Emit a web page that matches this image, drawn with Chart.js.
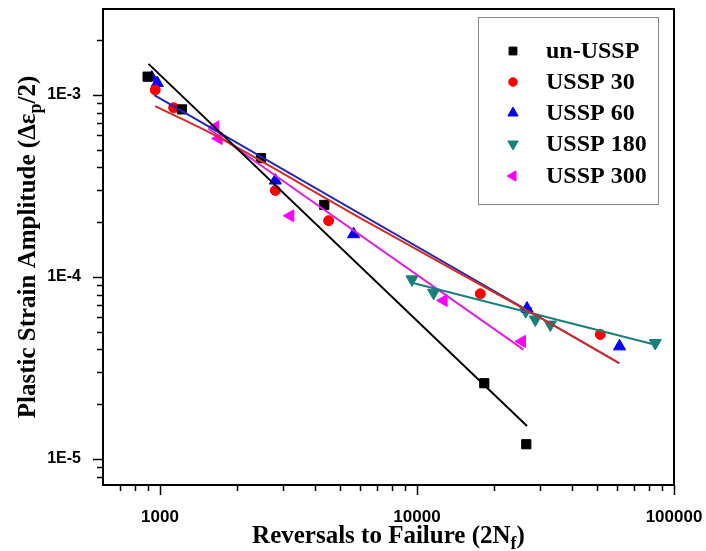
<!DOCTYPE html>
<html><head><meta charset="utf-8">
<script src="https://cdn.jsdelivr.net/npm/chart.js@4/dist/chart.umd.min.js"></script>
<style>html,body{margin:0;padding:0;background:#fff;}#wrap{width:706px;height:551px;position:relative;}</style>
</head><body><div id="wrap"><canvas id="c"></canvas></div>
<script>
// ---- data ----
const seriesNames = ['un-USSP', 'USSP 30', 'USSP 60', 'USSP 180', 'USSP 300'];

const unUsspX = [895, 1217, 2472, 4357, 18270, 26620];
const unUsspY = [1.262e-3, 8.34e-4, 4.50e-4, 2.49e-4, 2.61e-5, 1.206e-5];
const ussp30X = [958, 1130, 2810, 4530, 17630, 51660];
const ussp30Y = [1.066e-3, 8.51e-4, 2.99e-4, 2.04e-4, 8.09e-5, 4.83e-5];
const ussp60X = [929, 976, 2810, 5665, 26790, 61400];
const ussp60Y = [1.249e-3, 1.165e-3, 3.39e-4, 1.72e-4, 6.71e-5, 4.16e-5];
const ussp180X = [9560, 11600, 26500, 28860, 33020, 84560];
const ussp180Y = [9.71e-5, 8.19e-5, 6.49e-5, 5.84e-5, 5.48e-5, 4.34e-5];
const ussp300X = [1641, 1691, 3214, 12690, 25620];
const ussp300Y = [6.68e-4, 5.77e-4, 2.17e-4, 7.43e-5, 4.43e-5];

// fitted lines
const fitUnX = [902, 26790];
const fitUnY = [1.483e-3, 1.52e-5];
const fit30X = [958, 1716, 6583, 30180, 61260];
const fit30Y = [8.69e-4, 5.79e-4, 1.963e-4, 5.96e-5, 3.36e-5];
const fit60X = [950, 61260];
const fit60Y = [1.0e-3, 3.36e-5];
const fit180X = [9560, 84560];
const fit180Y = [9.30e-5, 4.25e-5];
const fit300X = [1541, 25970];
const fit300Y = [6.55e-4, 3.99e-5];

// axis ticks
const xTickValues = [700, 800, 900, 1000, 2000, 3000, 4000, 5000, 6000, 7000, 8000, 9000,
  10000, 20000, 30000, 40000, 50000, 60000, 70000, 80000, 90000, 100000];
const xMajorValues = [1000, 10000, 100000];
const xTickLabels = ['1000', '10000', '100000'];
const yTickValues = [8e-6, 9e-6, 1e-5, 2e-5, 3e-5, 4e-5, 5e-5, 6e-5, 7e-5, 8e-5, 9e-5,
  1e-4, 2e-4, 3e-4, 4e-4, 5e-4, 6e-4, 7e-4, 8e-4, 9e-4, 1e-3, 2e-3];
const yMajorValues = [1e-5, 1e-4, 1e-3];
const yTickLabels = ['1E-5', '1E-4', '1E-3'];

const xTitle = ['Reversals to Failure (2N', 'f', ')'];
const yTitle = ['Plastic Strain Amplitude (\u0394\u03b5', 'p', '/2)'];

// ---- build ----
const pts = (xs, ys) => xs.map((x, i) => ({x: x, y: ys[i]}));
const markerSpec = [
  {x: unUsspX, y: unUsspY, color: '#000000', style: 'rect', r: 6.5, rot: 0},
  {x: ussp30X, y: ussp30Y, color: '#ff0000', style: 'circle', r: 5, rot: 0},
  {x: ussp60X, y: ussp60Y, color: '#0000ff', style: 'triangle', r: 7, rot: 0},
  {x: ussp180X, y: ussp180Y, color: '#17807b', style: 'triangle', r: 7, rot: 180},
  {x: ussp300X, y: ussp300Y, color: '#ff00ff', style: 'triangle', r: 7, rot: 270}
];
const lineSpec = [
  {x: fitUnX, y: fitUnY, color: '#000000', t: 0},
  {x: fit30X, y: fit30Y, color: '#d42b22', t: 0.35},
  {x: fit60X, y: fit60Y, color: '#2424b8', t: 0},
  {x: fit180X, y: fit180Y, color: '#17807b', t: 0},
  {x: fit300X, y: fit300Y, color: '#e21ee2', t: 0}
];

const datasets = [];
markerSpec.forEach((m, i) => datasets.push({
  label: seriesNames[i], data: pts(m.x, m.y), showLine: false,
  pointStyle: m.style, pointRadius: m.r, pointRotation: m.rot, pointBorderWidth: 1,
  backgroundColor: m.color, borderColor: m.color, order: 2
}));
lineSpec.forEach((l, i) => datasets.push({
  label: seriesNames[i] + ' fit', data: pts(l.x, l.y), showLine: true, pointRadius: 0,
  borderColor: l.color, borderWidth: 2, tension: l.t, fill: false, order: 1
}));

const isPow10 = v => Math.abs(Math.log10(v) - Math.round(Math.log10(v))) < 1e-9;
const labelFor = (v, majors, labels) => {
  const k = majors.findIndex(m => Math.abs(m - v) / m < 1e-6);
  return k >= 0 ? labels[k] : '';
};

const framePlugin = {
  id: 'frame',
  afterDraw(chart) {
    const {ctx, chartArea: a} = chart;
    const xs = chart.scales.x, ys = chart.scales.y;
    ctx.save();
    ctx.strokeStyle = '#000';
    ctx.lineWidth = 1.5;
    ctx.beginPath();
    xs.ticks.forEach(t => {
      const p = Math.round(xs.getPixelForValue(t.value)) + 0.5;
      const len = isPow10(t.value) ? 10 : 6;
      ctx.moveTo(p, a.bottom); ctx.lineTo(p, a.bottom + len);
    });
    ys.ticks.forEach(t => {
      const p = Math.round(ys.getPixelForValue(t.value)) + 0.5;
      const len = isPow10(t.value) ? 10 : 6;
      ctx.moveTo(a.left, p); ctx.lineTo(a.left - len, p);
    });
    ctx.stroke();
    ctx.lineWidth = 2;
    ctx.strokeRect(a.left, a.top, a.right - a.left, a.bottom - a.top);

    // axis titles with subscripts
    const big = 'bold 25px "Liberation Serif", "Times New Roman", serif';
    const small = 'bold 18px "Liberation Serif", "Times New Roman", serif';
    const drawTitle = (parts, cx, baseY) => {
      ctx.font = big; const w0 = ctx.measureText(parts[0]).width;
      ctx.font = small; const w1 = ctx.measureText(parts[1]).width;
      ctx.font = big; const w2 = ctx.measureText(parts[2]).width;
      let x0 = cx - (w0 + w1 + w2) / 2;
      ctx.fillStyle = '#000'; ctx.textBaseline = 'alphabetic'; ctx.textAlign = 'left';
      ctx.font = big; ctx.fillText(parts[0], x0, baseY);
      ctx.font = small; ctx.fillText(parts[1], x0 + w0, baseY + 6);
      ctx.font = big; ctx.fillText(parts[2], x0 + w0 + w1, baseY);
    };
    drawTitle(xTitle, (a.left + a.right) / 2, 543);
    ctx.save();
    ctx.translate(35, (a.top + a.bottom) / 2);
    ctx.rotate(-Math.PI / 2);
    drawTitle(yTitle, 0, 0);
    ctx.restore();

    // legend
    ctx.lineWidth = 1;
    ctx.strokeStyle = '#8a8a8a';
    ctx.strokeRect(478.5, 17.5, 180, 187);
    ctx.font = 'bold 24px "Liberation Serif", "Times New Roman", serif';
    ctx.textBaseline = 'middle';
    ctx.textAlign = 'left';
    const ly = [51, 82, 113, 144, 176];
    markerSpec.forEach((m, i) => {
      ctx.fillStyle = m.color; ctx.strokeStyle = m.color;
      Chart.helpers.drawPoint(ctx, {pointStyle: m.style, radius: m.r * 0.85, rotation: m.rot, borderWidth: 1}, 513, ly[i]);
      ctx.fillStyle = '#000';
      ctx.fillText(seriesNames[i], 546, ly[i] + 1);
    });
    ctx.restore();
  }
};

new Chart(document.getElementById('c'), {
  type: 'scatter',
  data: {datasets: datasets},
  options: {
    responsive: true, maintainAspectRatio: false, animation: false,
    layout: {padding: {left: 0, right: 32, top: 9, bottom: 0}},
    plugins: {legend: {display: false}, tooltip: {enabled: false}},
    scales: {
      x: {
        type: 'logarithmic', min: 600, max: 100000,
        grid: {display: false}, border: {display: false},
        afterBuildTicks: s => { s.ticks = xTickValues.map(v => ({value: v})); },
        afterFit: s => { s.height = 66; s.paddingLeft = 0; s.paddingRight = 0; },
        ticks: {
          autoSkip: false, maxRotation: 0, padding: 14, color: '#000',
          font: {family: '"Liberation Sans", Arial, sans-serif', size: 17, weight: 'bold'},
          callback: v => labelFor(v, xMajorValues, xTickLabels)
        }
      },
      y: {
        type: 'logarithmic', min: 7.2e-6, max: 2.97e-3,
        grid: {display: false}, border: {display: false},
        afterBuildTicks: s => { s.ticks = yTickValues.map(v => ({value: v})); },
        afterFit: s => { s.width = 103; s.paddingTop = 0; s.paddingBottom = 0; },
        ticks: {
          autoSkip: false, padding: 14, color: '#000',
          font: {family: '"Liberation Sans", Arial, sans-serif', size: 16, weight: 'bold'},
          callback: v => labelFor(v, yMajorValues, yTickLabels)
        }
      }
    }
  },
  plugins: [framePlugin]
});
</script>
</body></html>
